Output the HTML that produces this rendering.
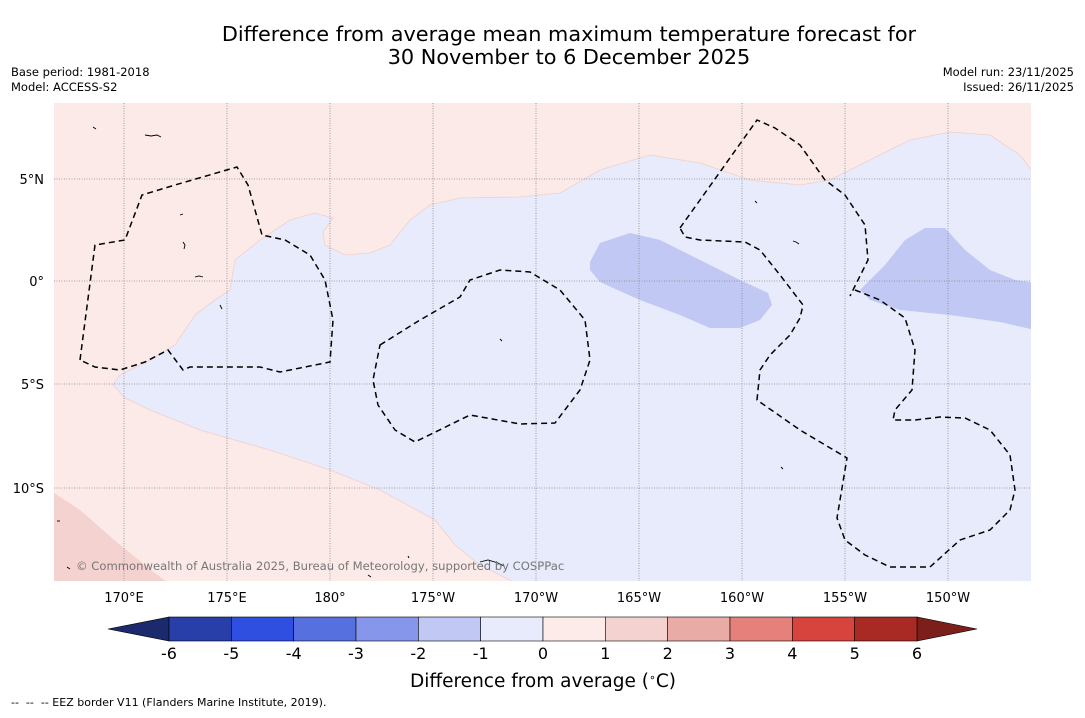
<!DOCTYPE html>
<html><head><meta charset="utf-8"><style>
body{margin:0;background:#fff;width:1085px;height:713px;overflow:hidden;font-family:"Liberation Sans","DejaVu Sans",sans-serif}
</style></head><body>
<svg width="1085" height="713" xmlns="http://www.w3.org/2000/svg" font-family="DejaVu Sans, Liberation Sans, sans-serif">
<g font-size="20.8" text-anchor="middle" fill="#000">
<text x="569" y="41">Difference from average mean maximum temperature forecast for</text>
<text x="569" y="64">30 November to 6 December 2025</text></g>
<g font-size="11.5" fill="#000">
<text x="11" y="76">Base period: 1981-2018</text>
<text x="11" y="91">Model: ACCESS-S2</text>
<text x="1074" y="76" text-anchor="end">Model run: 23/11/2025</text>
<text x="1074" y="91" text-anchor="end">Issued: 26/11/2025</text></g>
<defs><clipPath id="mc"><rect x="54" y="103" width="977" height="478"/></clipPath></defs>
<g clip-path="url(#mc)">
<rect x="54" y="103" width="977" height="478" fill="#fbeae8"/>
<path fill="#e8ebfb" stroke="#f0d0cc" stroke-width="0.8" d="M113,385 L120,375 L150,360 L175,345 L195,315 L215,300 L230,290 L235,260 L260,240 L290,220 L315,213 L333,218 L323,232 L325,245 L345,255 L370,253 L390,245 L410,220 L430,205 L460,198 L520,197 L560,193 L600,170 L650,155 L700,163 L750,180 L800,185 L830,180 L870,160 L910,140 L950,132 L990,135 L1020,155 L1035,175 L1035,585 L520,585 L480,565 L455,545 L435,520 L380,490 L330,470 L270,450 L200,430 L150,410 L125,398 Z"/>
<path fill="#f4d2cf" d="M54,493 L80,510 L120,545 L170,585 L54,585 Z"/>
<path fill="#c0c8f3" d="M590,262 L600,243 L630,233 L660,240 L700,260 L740,280 L768,293 L772,305 L760,320 L740,328 L710,328 L680,315 L640,300 L600,282 L590,270 Z"/>
<path fill="#c0c8f3" d="M860,290 L885,265 L905,240 L925,228 L945,228 L965,250 L990,270 L1015,280 L1035,283 L1035,330 L1000,322 L950,315 L900,310 L870,300 Z"/>
<g stroke="#888" stroke-width="0.8" stroke-dasharray="1,1.5">
<line x1="124" y1="103" x2="124" y2="581"/><line x1="227" y1="103" x2="227" y2="581"/><line x1="330" y1="103" x2="330" y2="581"/><line x1="433" y1="103" x2="433" y2="581"/><line x1="536" y1="103" x2="536" y2="581"/><line x1="639" y1="103" x2="639" y2="581"/><line x1="742" y1="103" x2="742" y2="581"/><line x1="845" y1="103" x2="845" y2="581"/><line x1="948" y1="103" x2="948" y2="581"/>
<line x1="54" y1="179" x2="1031" y2="179"/><line x1="54" y1="281" x2="1031" y2="281"/><line x1="54" y1="384" x2="1031" y2="384"/><line x1="54" y1="488" x2="1031" y2="488"/></g>
<g fill="none" stroke="#000" stroke-width="1.5" stroke-dasharray="6,4">
<path d="M80,360 L95,245 L125,240 L142,195 L175,185 L237,167 L248,185 L262,235 L285,240 L310,255 L325,280 L333,320 L330,362 L280,372 L260,367 L190,367 L183,370 L168,350 L145,362 L120,370 L95,367 Z"/>
<path d="M380,345 L420,320 L460,297 L470,280 L500,270 L530,272 L560,290 L585,320 L590,360 L580,390 L555,423 L520,424 L470,415 L415,442 L395,430 L378,405 L373,380 Z"/>
<path d="M680,228 L700,200 L757,120 L775,128 L800,145 L825,180 L845,195 L865,225 L868,260 L850,296"/>
<path d="M855,290 L880,300 L905,318 L915,350 L912,390 L895,410 L893,420 L915,420 L940,417 L965,418 L990,430 L1010,455 L1015,490 L1010,510 L990,530 L960,540 L930,567 L890,567 L865,555 L845,540 L837,518 L847,458 L800,430 L757,400 L760,370 L770,355 L790,335 L800,318 L803,305 L780,275 L760,250 L745,242 L700,240 L685,237 L680,228"/></g>
<g fill="none" stroke="#000" stroke-width="0.9">
<path d="M145,135 l6,1 l6,-1 l4,2"/><path d="M183,242 l2,3 l-1,4"/><path d="M195,277 l4,-1 l4,1"/><path d="M480,562 l8,-2 l10,3 l6,3"/><path d="M220,305 l2,4"/><path d="M500,339 l2,2"/><path d="M781,467 l2,2"/><path d="M755,201 l2,2"/><path d="M793,241 l3,1 l3,2"/><path d="M93,127 l3,2"/><path d="M180,215 l3,-1"/><path d="M67,567 l3,2"/><path d="M57,521 l3,0"/><path d="M408,556 l1,2"/><path d="M368,575 l3,2"/></g>
<text x="76" y="570" font-size="11.6" fill="#777">© Commonwealth of Australia 2025, Bureau of Meteorology, supported by COSPPac</text>
</g>
<g font-size="13" text-anchor="middle" fill="#000">
<text x="124" y="602">170°E</text><text x="227" y="602">175°E</text><text x="330" y="602">180°</text><text x="433" y="602">175°W</text><text x="536" y="602">170°W</text><text x="639" y="602">165°W</text><text x="742" y="602">160°W</text><text x="845" y="602">155°W</text><text x="948" y="602">150°W</text></g>
<g font-size="13" text-anchor="end" fill="#000">
<text x="44" y="184">5°N</text><text x="44" y="286">0°</text><text x="44" y="389">5°S</text><text x="44" y="493">10°S</text></g>
<g id="cb"></g>
<text x="543" y="687" font-size="18.5" text-anchor="middle">Difference from average (<tspan baseline-shift="super" font-size="11">∘</tspan>C)</text>
<text x="11" y="706" font-size="11" xml:space="preserve">--  --  -- EEZ border V11 (Flanders Marine Institute, 2019).</text>
</svg>
<script>
const ticks=[-6,-5,-4,-3,-2,-1,0,1,2,3,4,5,6];
const colors=["#283ea8","#2e4fe0","#5670e0","#8696ea","#c0c8f3","#e8ebfb","#fcebe9","#f4d2cf","#e9aba6","#e5807a","#d7443e","#a92a25"];
const ns="http://www.w3.org/2000/svg";
const cb=document.getElementById('cb');
const x0=169,x1=917,y0=617,y1=641;
const sx=v=>x0+(v-ticks[0])/(ticks[ticks.length-1]-ticks[0])*(x1-x0);
function mk(t,a){const e=document.createElementNS(ns,t);for(const k in a)e.setAttribute(k,a[k]);cb.appendChild(e);return e;}
const lt=mk('polygon',{points:`108,629 ${x0},${y0} ${x0},${y1}`,fill:'#1a2a6c',stroke:'#000','stroke-width':0.6});


const rt=mk('polygon',{points:`977,629 ${x1},${y0} ${x1},${y1}`,fill:'#7c1f1b',stroke:'#000','stroke-width':0.6});


colors.forEach((c,i)=>{const r=mk('rect',{x:sx(ticks[i]),y:y0,width:sx(ticks[i+1])-sx(ticks[i]),height:y1-y0,fill:c,stroke:'#000','stroke-width':0.6});

});
ticks.forEach(t=>{const tx=mk('text',{x:sx(t),y:659,'font-size':16,'text-anchor':'middle'});tx.textContent=String(t);

});
</script>
</body></html>
